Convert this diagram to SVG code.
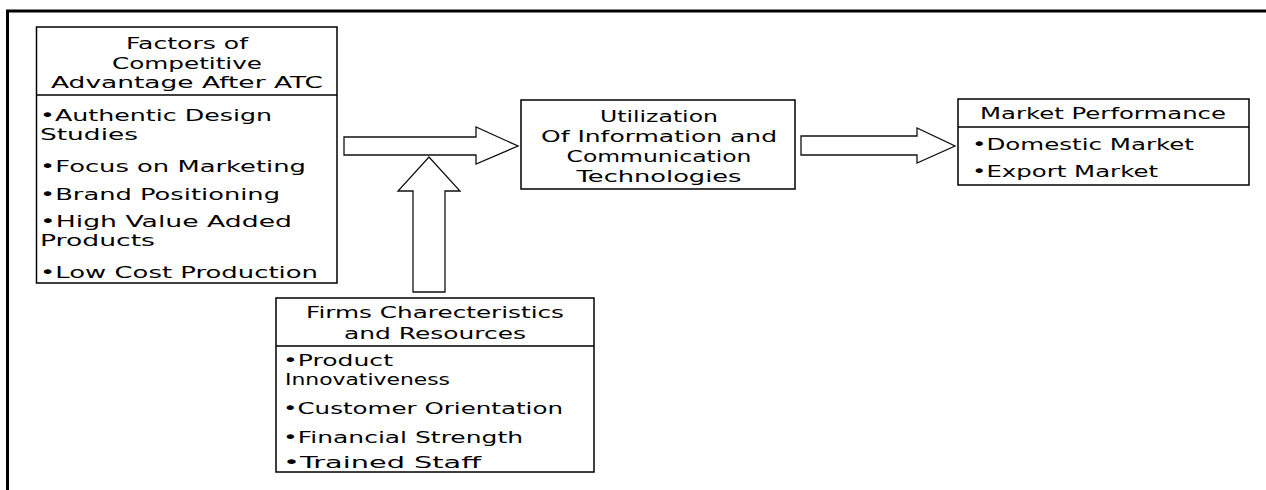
<svg xmlns="http://www.w3.org/2000/svg" width="1266" height="490" viewBox="0 0 1266 490">
<style>
.box{fill:#fff;stroke:#000;stroke-width:1.5}
.div{stroke:#000;stroke-width:1.5}
.arr{fill:#fff;stroke:#111;stroke-width:1.3;stroke-linejoin:miter}
text{font-family:"DejaVu Sans","Verdana",sans-serif;font-size:16.5px;fill:#000}
.c{text-anchor:middle}
</style>
<rect width="1266" height="490" fill="#fff"/>
<g id="frame">
<line x1="6" y1="11" x2="1266" y2="11" stroke="#000" stroke-width="3"/>
<line x1="7.5" y1="10" x2="7.5" y2="490" stroke="#000" stroke-width="3"/>
</g>
<g id="connectors">
<polygon class="arr" points="344,137 476,137 476,127 518,146 476,164 476,155 344,155"/>
<polygon class="arr" points="413,292 413,191 398,191 429,157 460,191 445,191 445,292"/>
<polygon class="arr" points="801,136 917,136 917,128 955,146 917,163 917,155 801,155"/>
</g>
<g id="factors">
<rect class="box" x="36.5" y="27" width="300.5" height="256"/>
<line class="div" x1="36.5" y1="95" x2="337" y2="95"/>
<text class="c" x="187" y="49" textLength="122" lengthAdjust="spacingAndGlyphs">Factors of</text>
<text class="c" x="187" y="68.5" textLength="150" lengthAdjust="spacingAndGlyphs">Competitive</text>
<text class="c" x="187" y="88" textLength="272" lengthAdjust="spacingAndGlyphs">Advantage After ATC</text>
<text x="40" y="121" textLength="232" lengthAdjust="spacingAndGlyphs">•Authentic Design</text>
<text x="40" y="140" textLength="98" lengthAdjust="spacingAndGlyphs">Studies</text>
<text x="40" y="172" textLength="266" lengthAdjust="spacingAndGlyphs">•Focus on Marketing</text>
<text x="40" y="200" textLength="240" lengthAdjust="spacingAndGlyphs">•Brand Positioning</text>
<text x="40" y="227" textLength="252" lengthAdjust="spacingAndGlyphs">•High Value Added</text>
<text x="40" y="246" textLength="115" lengthAdjust="spacingAndGlyphs">Products</text>
<text x="40" y="278" textLength="278" lengthAdjust="spacingAndGlyphs">•Low Cost Production</text>
</g>
<g id="ict">
<rect class="box" x="521" y="100" width="274" height="89"/>
<text class="c" x="659" y="122" textLength="118" lengthAdjust="spacingAndGlyphs">Utilization</text>
<text class="c" x="659" y="142" textLength="236" lengthAdjust="spacingAndGlyphs">Of Information and</text>
<text class="c" x="659" y="162" textLength="185" lengthAdjust="spacingAndGlyphs">Communication</text>
<text class="c" x="659" y="182" textLength="165" lengthAdjust="spacingAndGlyphs">Technologies</text>
</g>
<g id="market">
<rect class="box" x="958" y="99" width="291" height="86"/>
<line class="div" x1="958" y1="127" x2="1249" y2="127"/>
<text class="c" x="1103" y="119" textLength="246" lengthAdjust="spacingAndGlyphs">Market Performance</text>
<text x="972" y="150" textLength="222" lengthAdjust="spacingAndGlyphs">•Domestic Market</text>
<text x="972" y="177" textLength="186" lengthAdjust="spacingAndGlyphs">•Export Market</text>
</g>
<g id="firms">
<rect class="box" x="276" y="298" width="318" height="174"/>
<line class="div" x1="276" y1="346" x2="594" y2="346"/>
<text class="c" x="435" y="318" textLength="258" lengthAdjust="spacingAndGlyphs">Firms Charecteristics</text>
<text class="c" x="435" y="338.5" textLength="182" lengthAdjust="spacingAndGlyphs">and Resources</text>
<text x="283" y="366" textLength="110" lengthAdjust="spacingAndGlyphs">•Product</text>
<text x="285" y="385" textLength="165" lengthAdjust="spacingAndGlyphs">Innovativeness</text>
<text x="283" y="414" textLength="280" lengthAdjust="spacingAndGlyphs">•Customer Orientation</text>
<text x="283" y="443" textLength="240" lengthAdjust="spacingAndGlyphs">•Financial Strength</text>
<text x="283" y="468" textLength="198" lengthAdjust="spacingAndGlyphs">•Trained Staff</text>
</g>
</svg>
